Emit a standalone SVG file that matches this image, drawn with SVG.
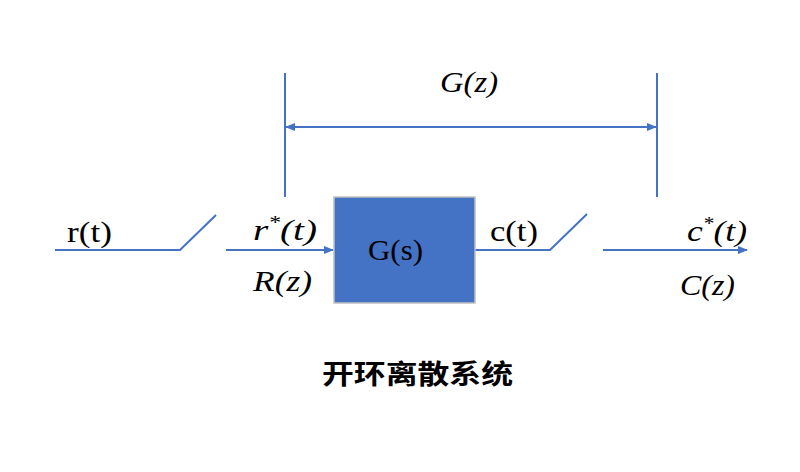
<svg xmlns="http://www.w3.org/2000/svg" width="800" height="472" viewBox="0 0 800 472">
<style>
.ln{stroke:#4472C4;stroke-width:2;fill:none}
.m{font-family:"Liberation Serif","DejaVu Serif",serif;font-size:30px;fill:#000}
.i{font-style:italic}
.t{font-family:"Noto Sans CJK SC",sans-serif;font-size:27px;font-weight:bold;fill:#000}
</style>
<defs>
<marker id="ah" viewBox="0 0 10 10" refX="9" refY="5" markerWidth="5" markerHeight="5" orient="auto-start-reverse" markerUnits="strokeWidth">
<path d="M0,1 L10,5 L0,9 Z" fill="#4472C4"/>
</marker>
</defs>
<rect width="800" height="472" fill="#fff"/>
<g id="connectors">
<path class="ln" d="M55,250 H180 L216,215"/>
<path class="ln" d="M226,250 H333" marker-end="url(#ah)"/>
<path class="ln" d="M475,250 H550 L587,214"/>
<path class="ln" d="M603,250 H747" marker-end="url(#ah)"/>
<path class="ln" d="M285,73 V197"/>
<path class="ln" d="M657,73 V197"/>
<path class="ln" d="M286,127 H656" marker-start="url(#ah)" marker-end="url(#ah)"/>
</g>
<g id="block">
<rect x="334" y="197" width="141" height="106" fill="#4472C4" stroke="#c0c0c0" stroke-width="1.5"/>
<text class="m" x="368" y="260" textLength="55" lengthAdjust="spacingAndGlyphs">G(s)</text>
</g>
<g id="labels">
<text class="m i" x="440" y="92" textLength="58" lengthAdjust="spacingAndGlyphs">G(z)</text>
<text class="m" x="67" y="242" textLength="45" lengthAdjust="spacingAndGlyphs">r(t)</text>
<text class="m i" x="253" y="240" textLength="64" lengthAdjust="spacingAndGlyphs">r<tspan font-size="18" dy="-11">*</tspan><tspan dy="11">(t)</tspan></text>
<text class="m i" x="253" y="291" textLength="59" lengthAdjust="spacingAndGlyphs">R(z)</text>
<text class="m" x="490" y="241" textLength="48" lengthAdjust="spacingAndGlyphs">c(t)</text>
<text class="m i" x="687" y="241" textLength="60" lengthAdjust="spacingAndGlyphs">c<tspan font-size="18" dy="-11">*</tspan><tspan dy="11">(t)</tspan></text>
<text class="m i" x="680" y="295" textLength="55" lengthAdjust="spacingAndGlyphs">C(z)</text>
</g>
<text class="t" x="322" y="384" textLength="191" lengthAdjust="spacingAndGlyphs">开环离散系统</text>
</svg>
